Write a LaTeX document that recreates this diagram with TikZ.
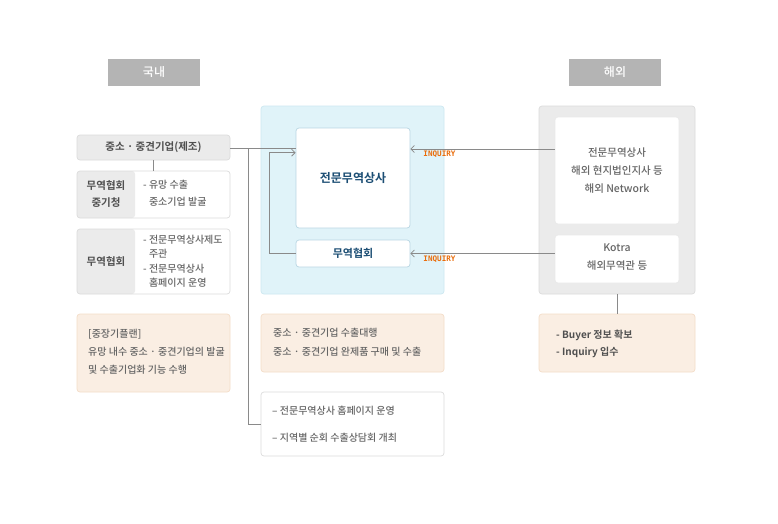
\documentclass[tikz,border=0pt]{standalone}
\usepackage{fontspec}
\setmainfont{Noto Sans CJK KR}[UprightFont=* Medium, BoldFont=* Bold]
\newfontfamily\monof{DejaVu Sans Mono}
\usetikzlibrary{arrows.meta,calc}
\definecolor{hdr}{HTML}{B4B4B4}
\definecolor{lgray}{HTML}{EBEBEB}
\definecolor{bgray}{HTML}{DCDCDC}
\definecolor{peach}{HTML}{FAEEE3}
\definecolor{peachb}{HTML}{F4DDC8}
\definecolor{lblue}{HTML}{E0F3F9}
\definecolor{lblueb}{HTML}{CDE8F1}
\definecolor{tradb}{HTML}{B9D6E3}
\definecolor{navy}{HTML}{1C4E74}
\definecolor{txt}{HTML}{666666}
\definecolor{txtb}{HTML}{505050}
\definecolor{ln}{HTML}{8A8A8A}
\definecolor{orng}{HTML}{EA6D0C}
\tikzset{
  box/.style={draw, rounded corners=3pt, line width=0.7pt, inner sep=0pt},
  hdrbox/.style={fill=hdr, inner sep=0pt, minimum width=92pt, minimum height=27pt, text=white, font=\fontsize{12}{13}\selectfont},
  whitebox/.style={box, draw=bgray, fill=white},
  peachbox/.style={box, draw=peachb, fill=peach},
  graybox/.style={box, draw=bgray, fill=lgray},
  splitbox/.style={whitebox, path picture={\fill[lgray] (path picture bounding box.north west) rectangle ([xshift=58pt]path picture bounding box.south west);}},
  txtnode/.style={inner sep=0pt, text=txt, font=\fontsize{10}{17}\selectfont},
  conn/.style={draw=ln, line width=0.8pt},
  arr/.style={conn, -{Straight Barb[length=3.5pt,width=7pt]}},
  inq/.style={inner sep=0pt, text=orng, font=\monof\bfseries\fontsize{7.6}{8}\selectfont}
}
\begin{document}
\begin{tikzpicture}[x=1pt,y=-1pt]
\useasboundingbox (0,0) rectangle (778,523);
\fill[white] (0,0) rectangle (778,523);

% headers
\node[hdrbox] (dom) at (154,72.5) {국내};
\node[hdrbox] (ovs) at (615,72.5) {해외};

% left column
\node[graybox, minimum width=153pt, minimum height=25pt, text=txtb, font=\bfseries\fontsize{10.5}{12}\selectfont] (sme) at (153.5,147.5) {중소 · 중견기업(제조)};
\node[splitbox, minimum width=153pt, minimum height=47pt] (kita1) at (153.5,194.5) {};
\node[txtnode, text=txtb, font=\bfseries\fontsize{10.5}{17}\selectfont, align=center] (kita1l) at (106,194.5) {무역협회\\중기청};
\node[txtnode, anchor=west, align=left] (kita1r) at (143,193.5) {- 유망 수출\\\phantom{- }중소기업 발굴};
\node[splitbox, minimum width=153pt, minimum height=65pt] (kita2) at (153.5,261.5) {};
\node[txtnode, text=txtb, font=\bfseries\fontsize{10.5}{17}\selectfont] (kita2l) at (106,261.5) {무역협회};
\node[txtnode, anchor=west, align=left, font=\fontsize{10}{14.5}\selectfont] (kita2r) at (143,261.5) {- 전문무역상사제도\\\phantom{- }주관\\- 전문무역상사\\\phantom{- }홈페이지 운영};
\node[peachbox, minimum width=153pt, minimum height=78pt] (plan) at (153.5,353) {};
\node[txtnode, anchor=west, align=left, font=\fontsize{10}{18}\selectfont] (plant) at (88,352) {[중장기플랜]\\유망 내수 중소 · 중견기업의 발굴\\및 수출기업화 기능 수행};

% middle column
\node[box, draw=lblueb, fill=lblue, minimum width=183pt, minimum height=188pt] (blue) at (352.5,200) {};
\node[box, draw=tradb, fill=white, minimum width=114pt, minimum height=100pt, text=navy, font=\bfseries\fontsize{12}{14}\selectfont] (trader) at (353,178) {전문무역상사};
\node[box, draw=tradb, fill=white, minimum width=114pt, minimum height=27pt, text=navy, font=\bfseries\fontsize{11}{13}\selectfont] (kita) at (353,253.5) {무역협회};
\node[peachbox, minimum width=183pt, minimum height=58pt] (midp) at (352.5,343) {};
\node[txtnode, anchor=west, align=left, font=\fontsize{10}{19}\selectfont] (midpt) at (273,342.5) {중소 · 중견기업 수출대행\\중소 · 중견기업 완제품 구매 및 수출};
\node[whitebox, minimum width=183pt, minimum height=64pt] (midw) at (352.5,424) {};
\node[txtnode, anchor=west, align=left, font=\fontsize{10}{27}\selectfont] (midwt) at (272,424.5) {– 전문무역상사 홈페이지 운영\\– 지역별 순회 수출상담회 개최};

% right column
\node[box, draw=bgray, fill=lgray, minimum width=156pt, minimum height=188pt] (grayp) at (617,200) {};
\node[box, draw=bgray!60, fill=white, minimum width=124pt, minimum height=107pt] (ovsnet) at (617,170.5) {};
\node[txtnode, align=center, font=\fontsize{10.5}{18}\selectfont] (ovsnett) at (617,171) {전문무역상사\\해외 현지법인지사 등\\해외 Network};
\node[box, draw=bgray!60, fill=white, minimum width=124pt, minimum height=48pt] (kotra) at (617,259) {};
\node[txtnode, align=center, font=\fontsize{10.5}{18}\selectfont] (kotrat) at (617,257.5) {Kotra\\해외무역관 등};
\node[peachbox, minimum width=156pt, minimum height=58pt] (rightp) at (617,343) {};
\node[txtnode, anchor=west, align=left, text=txtb, font=\bfseries\fontsize{10}{17}\selectfont] (rightpt) at (556,343.5) {- Buyer 정보 확보\\- Inquiry 입수};

% connectors
\coordinate (junc) at (248,148.5);
\draw[conn] (sme.east |- junc) -- (junc -| trader.west);
\draw[conn] (junc) |- (midw.west);
\draw[conn] (sme.south) -- (kita1.north);
\draw[arr] (kita.west) -- ++(-26,0) |- ([yshift=-25pt]trader.north west);
\draw[arr] ([yshift=21.5pt]ovsnet.west) -- ([yshift=21.5pt]ovsnet.west -| trader.east);
\draw[arr] (kotra.west |- kita.east) -- (kita.east);
\draw[conn] (grayp.south) -- (rightp.north);

\node[inq] (inq1) at (439.5,154.5) {INQUIRY};
\node[inq] (inq2) at (439.5,259.5) {INQUIRY};
\end{tikzpicture}
\end{document}
